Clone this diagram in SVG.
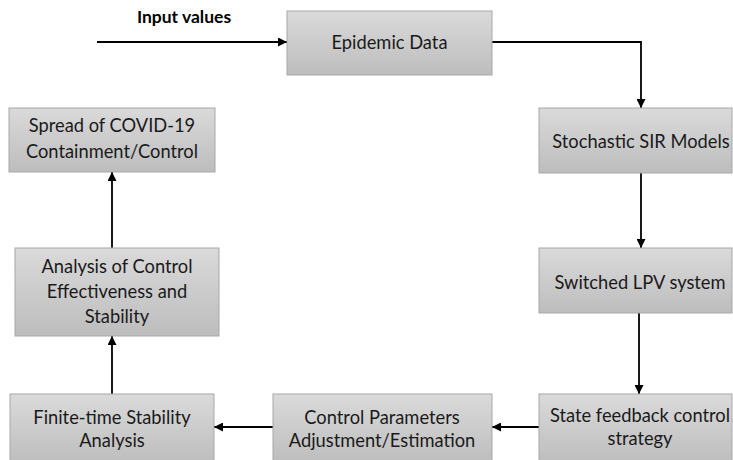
<svg xmlns="http://www.w3.org/2000/svg" width="733" height="460" viewBox="0 0 733 460">
<defs>
<linearGradient id="g" x1="0" y1="0" x2="0" y2="1">
<stop offset="0" stop-color="#dadada"/>
<stop offset="1" stop-color="#bdbdbd"/>
</linearGradient>
<marker id="ah" viewBox="0 0 10 10" refX="10" refY="5" markerWidth="5" markerHeight="5" orient="auto" markerUnits="strokeWidth">
<path d="M0,0 L10,5 L0,10 z" fill="#000"/>
</marker>
<style>
.box{fill:url(#g);stroke:#a8a8a8;stroke-width:1}
.t{font-family:Lato,"Liberation Sans",sans-serif;font-size:18.3px;fill:#1a1a1a;text-anchor:middle}
.b{font-family:Lato,"Liberation Sans",sans-serif;font-size:17.5px;font-weight:bold;fill:#000;text-anchor:middle}
.c{fill:none;stroke:#000;stroke-width:1.8}
</style>
</defs>
<g id="connectors">
<line class="c" x1="97" y1="42" x2="287" y2="42" marker-end="url(#ah)"/>
<polyline class="c" points="492,42 641,42 641,108" marker-end="url(#ah)"/>
<line class="c" x1="641" y1="173" x2="641" y2="248" marker-end="url(#ah)"/>
<line class="c" x1="639" y1="313" x2="639" y2="394" marker-end="url(#ah)"/>
<line class="c" x1="539" y1="427" x2="492" y2="427" marker-end="url(#ah)"/>
<line class="c" x1="273" y1="427" x2="214" y2="427" marker-end="url(#ah)"/>
<line class="c" x1="112" y1="394" x2="112" y2="336" marker-end="url(#ah)"/>
<line class="c" x1="112" y1="248" x2="112" y2="172" marker-end="url(#ah)"/>
</g>
<g id="input-label"><text class="b" x="184" y="23">Input values</text></g>
<g id="epidemic-data">
<rect class="box" x="287" y="11" width="205" height="64"/>
<text class="t" x="389.5" y="49">Epidemic Data</text>
</g>
<g id="stochastic-sir">
<rect class="box" x="539" y="108" width="193" height="65"/>
<text class="t" x="641" y="148">Stochastic SIR Models</text>
</g>
<g id="switched-lpv">
<rect class="box" x="539" y="248" width="193" height="65"/>
<text class="t" x="640" y="289">Switched LPV system</text>
</g>
<g id="state-feedback">
<rect class="box" x="539" y="394" width="193" height="70"/>
<text class="t" x="640" y="422">State feedback control</text>
<text class="t" x="640" y="445">strategy</text>
</g>
<g id="control-parameters">
<rect class="box" x="273" y="394" width="219" height="70"/>
<text class="t" x="382" y="424">Control Parameters</text>
<text class="t" x="382" y="447">Adjustment/Estimation</text>
</g>
<g id="finite-time">
<rect class="box" x="10" y="394" width="204" height="70"/>
<text class="t" x="112" y="424">Finite-time Stability</text>
<text class="t" x="112" y="447">Analysis</text>
</g>
<g id="analysis">
<rect class="box" x="15" y="248" width="204" height="88"/>
<text class="t" x="117" y="273">Analysis of Control</text>
<text class="t" x="117" y="298">Effectiveness and</text>
<text class="t" x="117" y="323">Stability</text>
</g>
<g id="spread">
<rect class="box" x="9" y="108" width="206" height="64"/>
<text class="t" x="112" y="132">Spread of COVID-19</text>
<text class="t" x="112" y="158">Containment/Control</text>
</g>
</svg>
